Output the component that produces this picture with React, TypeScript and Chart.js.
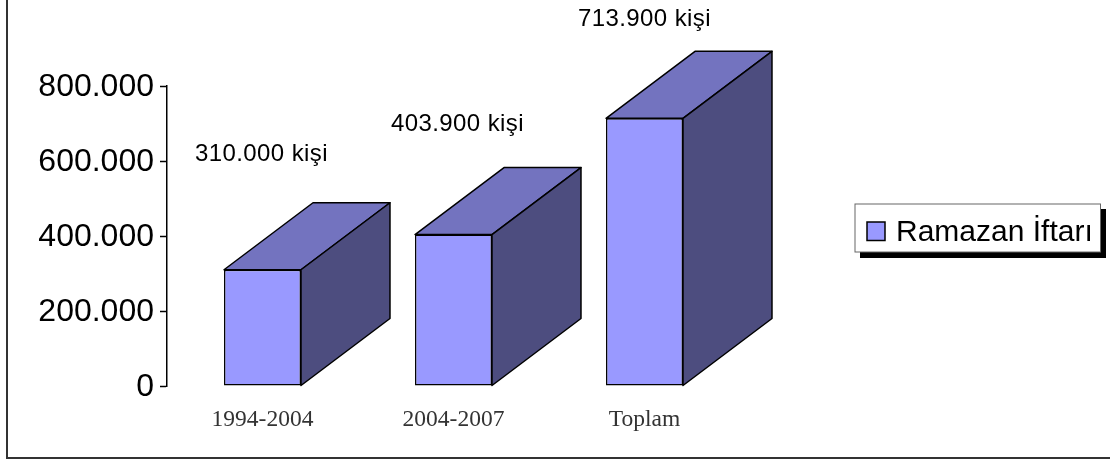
import React, { useEffect, useRef } from "react";
import { Chart, registerables } from "chart.js";

Chart.register(...registerables);

const categories = ["1994-2004", "2004-2007", "Toplam"];
const seriesName = "Ramazan İftarı";
const values = [310000, 403900, 713900];
const valueLabels = ["310.000 kişi", "403.900 kişi", "713.900 kişi"];
const yTicks = [0, 200000, 400000, 600000, 800000];
const yTickLabels = ["0", "200.000", "400.000", "600.000", "800.000"];

const FRONT = "#9999FF";
const TOP = "#7373BF";
const SIDE = "#4D4D7F";
const DEPTH_X = 89;
const DEPTH_Y = 67;
const LABEL_OFFSETS = [
  { dx: -1, dy: -115 },
  { dx: 4, dy: -110 },
  { dx: 0, dy: -99 },
];

const box3d = {
  id: "box3d",
  beforeDatasetsDraw(chart: any) {
    const { ctx } = chart;
    const meta = chart.getDatasetMeta(0);
    ctx.save();
    ctx.lineWidth = 1.5;
    ctx.strokeStyle = "#000";
    ctx.lineJoin = "round";
    meta.data.forEach((bar: any) => {
      const l = bar.x - bar.width / 2;
      const r = bar.x + bar.width / 2;
      const t = bar.y;
      const b = bar.base;
      ctx.fillStyle = TOP;
      ctx.beginPath();
      ctx.moveTo(l, t);
      ctx.lineTo(l + DEPTH_X, t - DEPTH_Y);
      ctx.lineTo(r + DEPTH_X, t - DEPTH_Y);
      ctx.lineTo(r, t);
      ctx.closePath();
      ctx.fill();
      ctx.stroke();
      ctx.fillStyle = SIDE;
      ctx.beginPath();
      ctx.moveTo(r, t);
      ctx.lineTo(r + DEPTH_X, t - DEPTH_Y);
      ctx.lineTo(r + DEPTH_X, b - DEPTH_Y);
      ctx.lineTo(r, b);
      ctx.closePath();
      ctx.fill();
      ctx.stroke();
    });
    ctx.restore();
  },
  afterDatasetsDraw(chart: any) {
    const { ctx } = chart;
    const meta = chart.getDatasetMeta(0);
    ctx.save();
    ctx.fillStyle = "#000";
    ctx.font = '24px "Liberation Sans"';
    ctx.letterSpacing = "0.4px";
    ctx.textAlign = "center";
    ctx.textBaseline = "middle";
    meta.data.forEach((bar: any, i: number) => {
      ctx.fillText(valueLabels[i], bar.x + LABEL_OFFSETS[i].dx, bar.y + LABEL_OFFSETS[i].dy);
    });
    ctx.restore();
  },
  afterDraw(chart: any) {
    const { ctx, width, height } = chart;
    ctx.save();
    // outer frame: only the left and bottom edges fall inside the picture
    ctx.strokeStyle = "#333";
    ctx.lineWidth = 2;
    ctx.beginPath();
    ctx.moveTo(7, 0);
    ctx.lineTo(7, height - 3);
    ctx.lineTo(width, height - 3);
    ctx.stroke();
    // legend
    ctx.fillStyle = "#000";
    ctx.fillRect(860, 209, 246, 49);
    ctx.fillStyle = "#fff";
    ctx.fillRect(855, 204, 245.5, 48);
    ctx.strokeStyle = "#666";
    ctx.lineWidth = 1;
    ctx.strokeRect(855, 204, 245.5, 48);
    ctx.fillStyle = FRONT;
    ctx.strokeStyle = "#000";
    ctx.lineWidth = 1.5;
    ctx.fillRect(867, 222, 18, 18.5);
    ctx.strokeRect(867, 222, 18, 18.5);
    ctx.fillStyle = "#000";
    ctx.font = '30px "Liberation Sans"';
    ctx.textAlign = "left";
    ctx.textBaseline = "alphabetic";
    ctx.fillText(seriesName, 896, 241);
    ctx.restore();
  },
};

export default function App() {
  const ref = useRef<HTMLCanvasElement>(null);
  useEffect(() => {
    const chart = new Chart(ref.current as HTMLCanvasElement, {
      type: "bar",
      data: {
        labels: categories,
        datasets: [
          {
            label: seriesName,
            data: values,
            backgroundColor: FRONT,
            borderColor: "#000",
            borderWidth: 1.5,
            borderSkipped: false,
            barPercentage: 0.403,
            categoryPercentage: 1,
          },
        ],
      },
      plugins: [box3d],
      options: {
        animation: false,
        responsive: false,
        devicePixelRatio: 1,
        clip: false,
        layout: { padding: { left: 0, right: 370, top: 86, bottom: 20 } },
        plugins: { legend: { display: false }, tooltip: { enabled: false }, title: { display: false } },
        scales: {
          x: {
            grid: { display: false, drawTicks: false },
            border: { display: false },
            ticks: {
              color: "#333",
              padding: 20,
              maxRotation: 0,
              font: { family: "Liberation Serif", size: 23.5 },
            },
            afterFit: (s: any) => {
              s.height = 55;
            },
          },
          y: {
            min: 0,
            max: 800000,
            afterFit: (s: any) => {
              s.width = 167;
            },
            afterBuildTicks: (s: any) => {
              s.ticks = yTicks.map((v) => ({ value: v }));
            },
            grid: { display: true, drawOnChartArea: false, drawTicks: true, tickLength: 7, tickColor: "#000", tickWidth: 1.5 },
            border: { display: true, color: "#000", width: 1.5 },
            ticks: {
              color: "#000",
              padding: 6,
              labelOffset: 1.5,
              font: { family: "Liberation Sans", size: 32 },
              callback: (v: any) => yTickLabels[yTicks.indexOf(Number(v))],
            },
          },
        },
      },
    } as any);
    return () => chart.destroy();
  }, []);
  return (
    <div style={{ position: "fixed", left: 0, top: 0, width: 1110, height: 461, background: "#fff" }}>
      <canvas ref={ref} width={1110} height={461} style={{ display: "block" }} />
    </div>
  );
}
